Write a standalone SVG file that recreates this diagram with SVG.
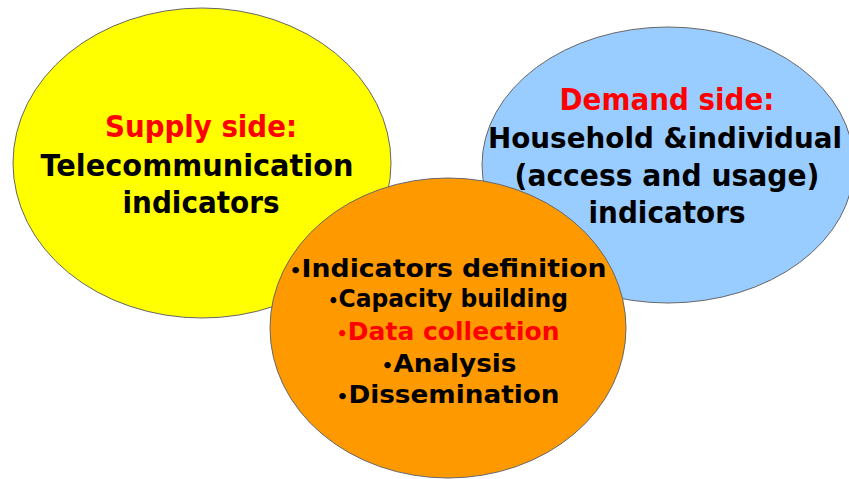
<svg xmlns="http://www.w3.org/2000/svg" width="849" height="479" viewBox="0 0 849 479">
<style>
.e{stroke:#666;stroke-width:1}
.t{font-family:"DejaVu Sans",Verdana,sans-serif;font-weight:bold;text-anchor:middle;fill:#000}
.big{font-size:30px}
.sm{font-size:24px}
.red{fill:#FF0000}
.b{font-size:17px}
</style>
<rect width="849" height="479" fill="#fff"/>
<g id="supply">
<ellipse class="e" cx="202" cy="163" rx="189" ry="155" fill="#FFFF00"/>
<text class="t big red" x="201" y="137" textLength="192" lengthAdjust="spacingAndGlyphs">Supply side:</text>
<text class="t big" x="197" y="176" textLength="313" lengthAdjust="spacingAndGlyphs">Telecommunication</text>
<text class="t big" x="201" y="213" textLength="157" lengthAdjust="spacingAndGlyphs">indicators</text>
</g>
<g id="demand">
<ellipse class="e" cx="668" cy="165" rx="186" ry="138" fill="#99CCFF"/>
<text class="t big red" x="667" y="110" textLength="215" lengthAdjust="spacingAndGlyphs">Demand side:</text>
<text class="t" style="font-size:28px" x="665" y="148" textLength="354" lengthAdjust="spacingAndGlyphs">Household &amp;individual</text>
<text class="t big" x="667" y="186" textLength="305" lengthAdjust="spacingAndGlyphs">(access and usage)</text>
<text class="t big" x="667" y="223" textLength="157" lengthAdjust="spacingAndGlyphs">indicators</text>
</g>
<g id="process">
<ellipse class="e" cx="448" cy="328" rx="178" ry="150" fill="#FF9900"/>
<text class="t sm" x="448" y="277" textLength="317" lengthAdjust="spacingAndGlyphs"><tspan class="b">•</tspan>Indicators definition</text>
<text class="t sm" x="448" y="307" textLength="240" lengthAdjust="spacingAndGlyphs"><tspan class="b">•</tspan>Capacity building</text>
<text class="t sm red" x="448" y="340" textLength="223" lengthAdjust="spacingAndGlyphs"><tspan class="b">•</tspan>Data collection</text>
<text class="t sm" x="449" y="372" textLength="135" lengthAdjust="spacingAndGlyphs"><tspan class="b">•</tspan>Analysis</text>
<text class="t sm" x="448" y="403" textLength="223" lengthAdjust="spacingAndGlyphs"><tspan class="b">•</tspan>Dissemination</text>
</g>
<g id="connectors"/>
</svg>
